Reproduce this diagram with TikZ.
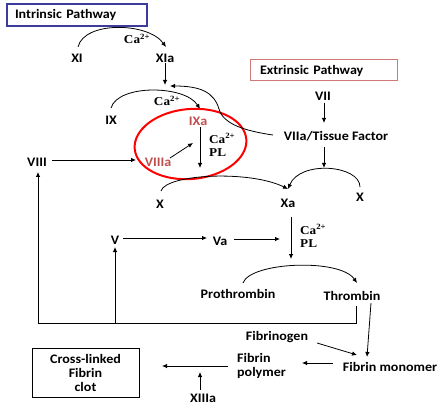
\documentclass[tikz,border=0pt]{standalone}
\usepackage{fontspec}
\setmainfont[FakeStretch=1.08]{Carlito}
\newfontfamily\tnr[FakeStretch=1.1]{Liberation Serif}
\usetikzlibrary{arrows.meta,calc,shapes.geometric}
\definecolor{accred}{HTML}{C0504D}
\definecolor{navybox}{HTML}{3C3C9E}
\definecolor{extred}{HTML}{D27876}
\begin{document}
\begin{tikzpicture}[x=1pt,y=-1pt,
  lbl/.style={font=\fontsize{13}{15}\selectfont\bfseries, inner sep=1pt},
  rlbl/.style={lbl, text=accred},
  cat/.style={font=\tnr\fontsize{12}{13}\selectfont\bfseries, inner sep=0pt, align=left},
  arr/.style={line width=0.8pt, -{Latex[length=5pt,width=4.5pt]}},
  ln/.style={line width=0.8pt}]
\useasboundingbox (0,0) rectangle (439,406);
\fill[white] (0,0) rectangle (439,406);

% boxes
\node (intr) [lbl, draw=navybox, line width=1.1pt, minimum width=140pt, minimum height=22pt, text width=124pt, inner xsep=8pt, align=left] at (77,15) {Intrinsic Pathway};
\node (extr) [lbl, draw=extred, line width=1pt, minimum width=147pt, minimum height=21pt, text width=127pt, inner xsep=10pt, align=left] at (323.5,70.5) {Extrinsic Pathway};

% intrinsic
\node (xi) [lbl] at (77,58) {XI};
\node (xia) [lbl] at (165,58) {XIa};
\node (ca1) [cat] at (137,39) {Ca\textsuperscript{2+}};
\coordinate (xis) at (78,47);
\coordinate (xiae) at (166,47);
\draw[arr] (xis) .. controls (84,21) and (148,22) .. (xiae);
\coordinate (j1) at (165,85);
\draw[arr] (xia.south) -- (j1);

\node (ix) [lbl] at (111,120) {IX};
\node (ixa) [rlbl] at (198,121) {IXa};
\node (ca2) [cat] at (167,101) {Ca\textsuperscript{2+}};
\coordinate (ixs) at (111,108);
\coordinate (ixae) at (200,109);
\draw[arr] (ixs) .. controls (118,84) and (185,85) .. (ixae);

\node (viiia) [rlbl] at (158,162) {VIIIa};
\node (viii) [lbl] at (37,162) {VIII};
\draw[arr] (viii.east) ++(4,-2) coordinate (viiie) -- (136,160) coordinate (viiiae);
\coordinate (va1) at (193,143);
\draw[arr] (170,158) coordinate (viiias) -- (va1);
\coordinate (ixb) at (200,168);
\draw[arr] (200,127) coordinate (ixat) -- (ixb);
\node (capl1) [cat, anchor=west] at (209,145) {Ca\textsuperscript{2+}\\PL};

\node (circ) [draw=red, line width=2pt, ellipse, minimum width=112pt, minimum height=70pt, rotate=5] at (190.5,144) {};

% extrinsic
\node (vii) [lbl] at (323,96) {VII};
\node (viitf) [lbl] at (336,136) {VIIa/Tissue Factor};
\draw[arr] (324,103) coordinate (viib) -- (324,123) coordinate (viitft);
\draw[arr] (324,147) coordinate (viitfb) -- (324,168) coordinate (xarc);
\coordinate (tfs) at (273,135);
\draw[ln, -{Latex[length=5pt,width=4.5pt]}] (tfs) .. controls (245,131) and (223,124) .. (219,109) .. controls (214,92) and (200,86) .. (170,86);

\node (xl) [lbl] at (160,204) {X};
\node (xa) [lbl] at (288,203) {Xa};
\node (xr) [lbl] at (360,197) {X};
\coordinate (xat) at (288,189);
\draw[arr] (360,187) coordinate (xrs) .. controls (360,165) and (300,160) .. (xat);
\draw[arr] (161,191) coordinate (xls) .. controls (166,174) and (250,170) .. (xat);

% common
\draw[arr] (291,217) coordinate (xab) -- (291,259) coordinate (xad);
\node (capl2) [cat, anchor=west] at (300,236) {Ca\textsuperscript{2+}\\PL};

\node (v) [lbl] at (115,240) {V};
\node (va) [lbl] at (220,241) {Va};
\draw[arr] (123,238) coordinate (ve) -- (207,238) coordinate (vaw);
\draw[arr] (234,239) coordinate (vae) -- (280,239) coordinate (vaf);

\node (pro) [lbl] at (238,294) {Prothrombin};
\node (thr) [lbl] at (352,296) {Thrombin};
\draw[arr] (243,283) coordinate (pros) .. controls (250,262) and (340,258) .. (357,283) coordinate (thrt);

% feedback
\coordinate (fb1) at (356,306);
\coordinate (fb2) at (356,323);
\coordinate (fb3) at (38,323);
\coordinate (fb4) at (38,172);
\coordinate (fbv) at (115,323);
\draw[ln] (fb1) -- (fb2) -- (fb3);
\draw[arr] (fb3) -- (fb4);
\draw[arr] (fbv) -- (115,247) coordinate (vb);

% fibrin
\node (fgn) [lbl] at (277,337) {Fibrinogen};
\node (fmon) [lbl] at (390,367) {Fibrin monomer};
\node (fpol) [lbl, align=left, anchor=west] at (236,366) {Fibrin\\[-1pt]polymer};
\draw[arr] (371,303) coordinate (thrb) -- (367,357) coordinate (fmont);
\draw[arr] (317,343) coordinate (fgne) -- (357,355) coordinate (fmonw);
\draw[arr] (333,363) coordinate (fmons) -- (302,363) coordinate (fpole);
\draw[arr] (228,366) coordinate (fpolw) -- (162,366) coordinate (clote);
\node (clot) [lbl, draw, line width=0.8pt, minimum width=107pt, minimum height=49pt, align=center] at (85.5,372.5) {Cross-linked\\[-1pt]Fibrin\\[-1pt]clot};
\node (xiiia) [lbl, inner sep=0pt] at (203,398.5) {XIIIa};
\draw[arr] (200,390) coordinate (xiiiat) -- (200,372) coordinate (fpolb);
\end{tikzpicture}
\end{document}
